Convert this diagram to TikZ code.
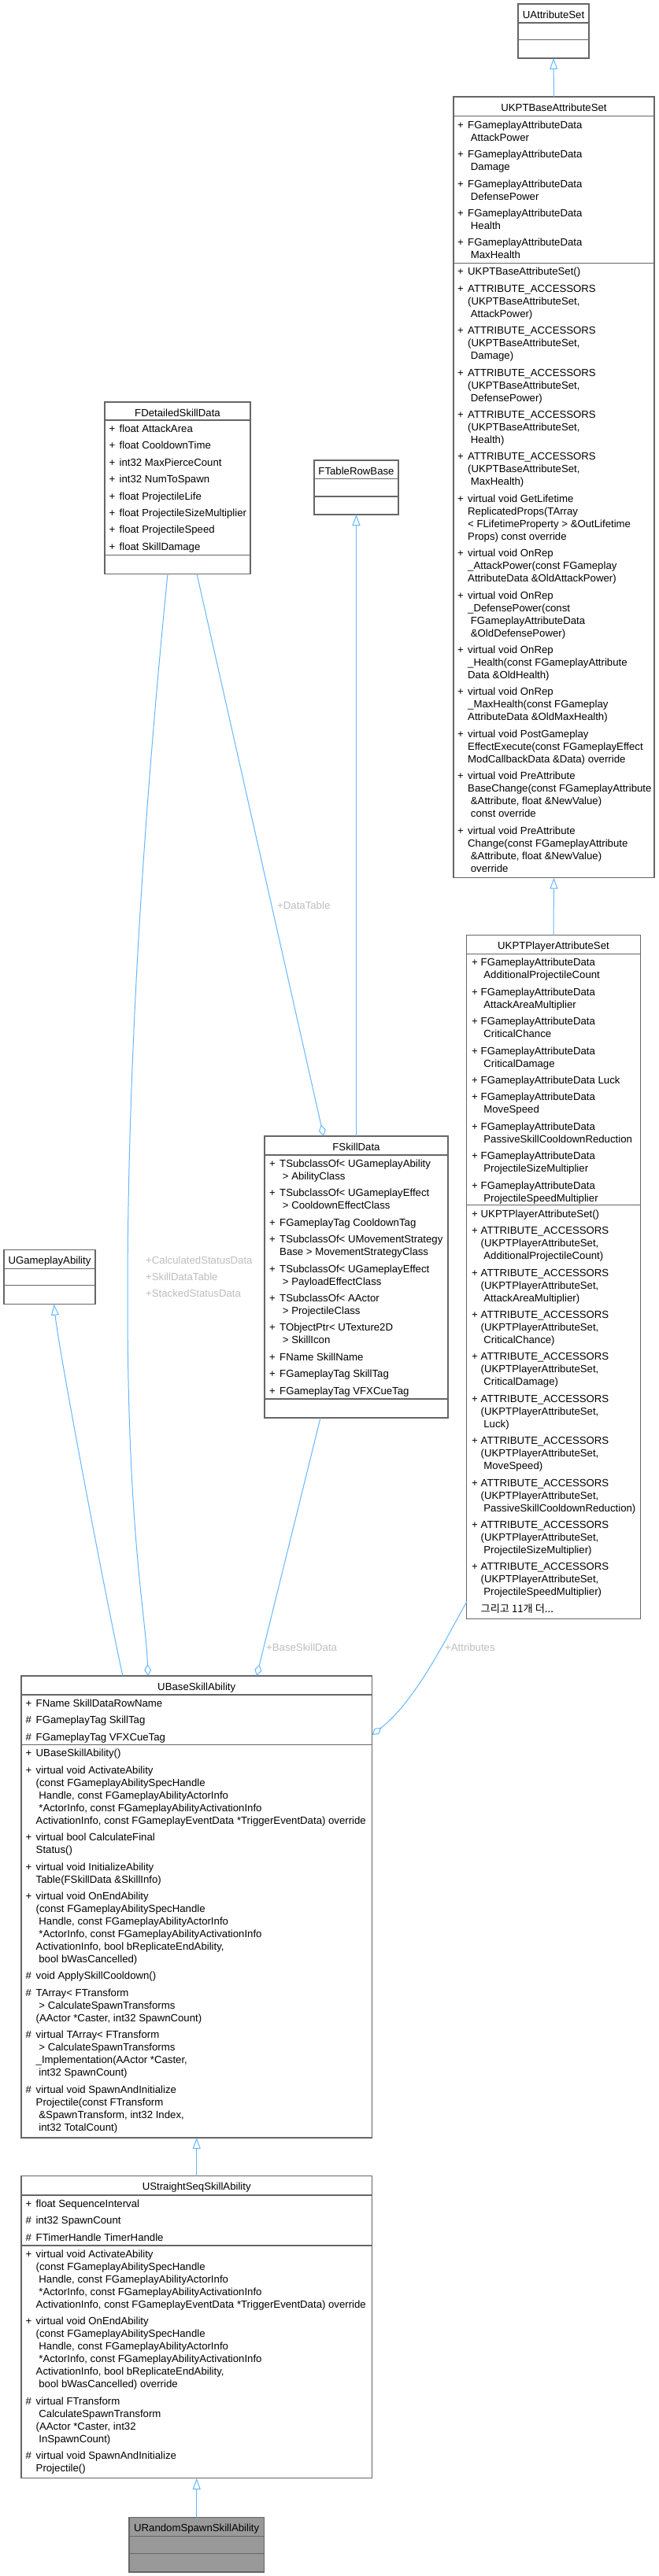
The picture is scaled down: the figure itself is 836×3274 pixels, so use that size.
\documentclass[tikz,border=0pt]{standalone}
\usepackage{fontspec}
\setmainfont{Liberation Sans}
\newfontfamily\krfont{Noto Sans CJK KR}
\usetikzlibrary{arrows.meta,calc}
\definecolor{edgeblue}{HTML}{63B8FF}
\definecolor{boxgray}{HTML}{666666}
\definecolor{lblgray}{HTML}{BEBEBE}
\definecolor{focusfill}{HTML}{999999}
\newlength\pubw
\setlength\pubw{13pt}
\newcommand\Pub{\makebox[\pubw][l]{+}}
\newcommand\Pro{\makebox[\pubw][l]{\#}}
\newcommand\Ind{\hspace*{\pubw}}
\newcommand\Ins{\hspace*{\dimexpr\pubw+3.7pt\relax}}
\newcommand\Cls[8]{%
 \pgfmathsetmacro\clcx{(#2+#4)/2}%
 \pgfmathsetmacro\clcy{(#3+#7)/2}%
 \pgfmathsetmacro\clw{#4-#2}%
 \pgfmathsetmacro\clh{#7-#3}%
 \node[cls, fill=#8, minimum width=\clw pt, minimum height=\clh pt] (#1) at (\clcx,\clcy) {};%
 \draw[sepl] (#2,#5) -- (#4,#5);%
 \draw[sepl] (#2,#6) -- (#4,#6);%
}
\tikzset{
 cls/.style={draw=boxgray, line width=1.2pt, inner sep=0pt, outer sep=0pt},
 sepl/.style={draw=boxgray, line width=1.2pt},
 ttl/.style={anchor=base, inner sep=0pt, font=\fontsize{13.2}{16}\selectfont},
 mem/.style={anchor=base west, inner sep=0pt, font=\fontsize{13.2}{16}\selectfont},
 lbl/.style={anchor=base west, inner sep=0pt, text=lblgray, font=\fontsize{13.2}{16}\selectfont},
 inh/.style={draw=edgeblue, line width=1pt, -{Triangle[open,length=14pt,width=10pt]}},
 agg/.style={draw=edgeblue, line width=1pt, -{Diamond[open,length=15pt,width=9pt]}},
}
\begin{document}
\begin{tikzpicture}[x=1pt,y=-1pt]
\useasboundingbox (0,0) rectangle (836,3274);
\fill[white] (0,0) rectangle (836,3274);

% ---------- class boxes ----------
\Cls{uattr}{658}{5}{748}{29}{50.7}{74}{white}
\node[ttl] (uattrT) at (703,23) {UAttributeSet};

\Cls{ukptbase}{576}{123}{831}{147.7}{334.3}{1115.7}{white}
\node[ttl] (ukptbaseT) at (703.5,141.5) {UKPTBaseAttributeSet};
\node[mem] (ukptbaseA) at (581,163.2) {\begin{tabular}[t]{@{}l@{}}
\Pub FGameplayAttributeData\\ \Ins AttackPower\\[5.4pt]
\Pub FGameplayAttributeData\\ \Ins Damage\\[5.4pt]
\Pub FGameplayAttributeData\\ \Ins DefensePower\\[5.4pt]
\Pub FGameplayAttributeData\\ \Ins Health\\[5.4pt]
\Pub FGameplayAttributeData\\ \Ins MaxHealth
\end{tabular}};
\node[mem] (ukptbaseM) at (581,349.8) {\begin{tabular}[t]{@{}l@{}}
\Pub UKPTBaseAttributeSet()\\[5.4pt]
\Pub ATTRIBUTE\_ACCESSORS\\ \Ind (UKPTBaseAttributeSet,\\ \Ins AttackPower)\\[5.4pt]
\Pub ATTRIBUTE\_ACCESSORS\\ \Ind (UKPTBaseAttributeSet,\\ \Ins Damage)\\[5.4pt]
\Pub ATTRIBUTE\_ACCESSORS\\ \Ind (UKPTBaseAttributeSet,\\ \Ins DefensePower)\\[5.4pt]
\Pub ATTRIBUTE\_ACCESSORS\\ \Ind (UKPTBaseAttributeSet,\\ \Ins Health)\\[5.4pt]
\Pub ATTRIBUTE\_ACCESSORS\\ \Ind (UKPTBaseAttributeSet,\\ \Ins MaxHealth)\\[5.4pt]
\Pub virtual void GetLifetime\\ \Ind ReplicatedProps(TArray\\ \Ind < FLifetimeProperty > \&OutLifetime\\ \Ind Props) const override\\[5.4pt]
\Pub virtual void OnRep\\ \Ind \_AttackPower(const FGameplay\\ \Ind AttributeData \&OldAttackPower)\\[5.4pt]
\Pub virtual void OnRep\\ \Ind \_DefensePower(const\\ \Ins FGameplayAttributeData\\ \Ins \&OldDefensePower)\\[5.4pt]
\Pub virtual void OnRep\\ \Ind \_Health(const FGameplayAttribute\\ \Ind Data \&OldHealth)\\[5.4pt]
\Pub virtual void OnRep\\ \Ind \_MaxHealth(const FGameplay\\ \Ind AttributeData \&OldMaxHealth)\\[5.4pt]
\Pub virtual void PostGameplay\\ \Ind EffectExecute(const FGameplayEffect\\ \Ind ModCallbackData \&Data) override\\[5.4pt]
\Pub virtual void PreAttribute\\ \Ind BaseChange(const FGameplayAttribute\\ \Ins \&Attribute, float \&NewValue)\\ \Ins const override\\[5.4pt]
\Pub virtual void PreAttribute\\ \Ind Change(const FGameplayAttribute\\ \Ins \&Attribute, float \&NewValue)\\ \Ins override
\end{tabular}};

\Cls{fdet}{133}{511}{318}{534}{705.3}{729.3}{white}
\node[ttl] (fdetT) at (225.5,529) {FDetailedSkillData};
\node[mem] (fdetA) at (138.5,549.5) {\begin{tabular}[t]{@{}l@{}}
\Pub float AttackArea\\[5.4pt]
\Pub float CooldownTime\\[5.4pt]
\Pub int32 MaxPierceCount\\[5.4pt]
\Pub int32 NumToSpawn\\[5.4pt]
\Pub float ProjectileLife\\[5.4pt]
\Pub float ProjectileSizeMultiplier\\[5.4pt]
\Pub float ProjectileSpeed\\[5.4pt]
\Pub float SkillDamage
\end{tabular}};

\Cls{ftrb}{399}{585}{506}{608.5}{631}{654}{white}
\node[ttl] (ftrbT) at (452.5,603) {FTableRowBase};

\Cls{fsd}{336}{1444}{569}{1468}{1778}{1802}{white}
\node[ttl] (fsdT) at (452.5,1462) {FSkillData};
\node[mem] (fsdA) at (342,1483.5) {\begin{tabular}[t]{@{}l@{}}
\Pub TSubclassOf< UGameplayAbility\\ \Ins > AbilityClass\\[5.4pt]
\Pub TSubclassOf< UGameplayEffect\\ \Ins > CooldownEffectClass\\[5.4pt]
\Pub FGameplayTag CooldownTag\\[5.4pt]
\Pub TSubclassOf< UMovementStrategy\\ \Ind Base > MovementStrategyClass\\[5.4pt]
\Pub TSubclassOf< UGameplayEffect\\ \Ins > PayloadEffectClass\\[5.4pt]
\Pub TSubclassOf< AActor\\ \Ins > ProjectileClass\\[5.4pt]
\Pub TObjectPtr< UTexture2D\\ \Ins > SkillIcon\\[5.4pt]
\Pub FName SkillName\\[5.4pt]
\Pub FGameplayTag SkillTag\\[5.4pt]
\Pub FGameplayTag VFXCueTag
\end{tabular}};

\Cls{uga}{5}{1588.3}{121}{1612.3}{1633.7}{1657.7}{white}
\node[ttl] (ugaT) at (63,1606.3) {UGameplayAbility};

\Cls{ukptp}{592.7}{1188.3}{813.3}{1212.3}{1531.7}{2057.7}{white}
\node[ttl] (ukptpT) at (703,1206.3) {UKPTPlayerAttributeSet};
\node[mem] (ukptpA) at (599,1227.8) {\setlength\pubw{11.5pt}\begin{tabular}[t]{@{}l@{}}
\Pub FGameplayAttributeData\\ \Ins AdditionalProjectileCount\\[5.4pt]
\Pub FGameplayAttributeData\\ \Ins AttackAreaMultiplier\\[5.4pt]
\Pub FGameplayAttributeData\\ \Ins CriticalChance\\[5.4pt]
\Pub FGameplayAttributeData\\ \Ins CriticalDamage\\[5.4pt]
\Pub FGameplayAttributeData Luck\\[5.4pt]
\Pub FGameplayAttributeData\\ \Ins MoveSpeed\\[5.4pt]
\Pub FGameplayAttributeData\\ \Ins PassiveSkillCooldownReduction\\[5.4pt]
\Pub FGameplayAttributeData\\ \Ins ProjectileSizeMultiplier\\[5.4pt]
\Pub FGameplayAttributeData\\ \Ins ProjectileSpeedMultiplier
\end{tabular}};
\node[mem] (ukptpM) at (599,1547.2) {\setlength\pubw{11.5pt}\begin{tabular}[t]{@{}l@{}}
\Pub UKPTPlayerAttributeSet()\\[5.4pt]
\Pub ATTRIBUTE\_ACCESSORS\\ \Ind (UKPTPlayerAttributeSet,\\ \Ins AdditionalProjectileCount)\\[5.4pt]
\Pub ATTRIBUTE\_ACCESSORS\\ \Ind (UKPTPlayerAttributeSet,\\ \Ins AttackAreaMultiplier)\\[5.4pt]
\Pub ATTRIBUTE\_ACCESSORS\\ \Ind (UKPTPlayerAttributeSet,\\ \Ins CriticalChance)\\[5.4pt]
\Pub ATTRIBUTE\_ACCESSORS\\ \Ind (UKPTPlayerAttributeSet,\\ \Ins CriticalDamage)\\[5.4pt]
\Pub ATTRIBUTE\_ACCESSORS\\ \Ind (UKPTPlayerAttributeSet,\\ \Ins Luck)\\[5.4pt]
\Pub ATTRIBUTE\_ACCESSORS\\ \Ind (UKPTPlayerAttributeSet,\\ \Ins MoveSpeed)\\[5.4pt]
\Pub ATTRIBUTE\_ACCESSORS\\ \Ind (UKPTPlayerAttributeSet,\\ \Ins PassiveSkillCooldownReduction)\\[5.4pt]
\Pub ATTRIBUTE\_ACCESSORS\\ \Ind (UKPTPlayerAttributeSet,\\ \Ins ProjectileSizeMultiplier)\\[5.4pt]
\Pub ATTRIBUTE\_ACCESSORS\\ \Ind (UKPTPlayerAttributeSet,\\ \Ins ProjectileSpeedMultiplier)\\[5.4pt]
\Ind {\krfont 그리고 11개 더...}
\end{tabular}};

\Cls{ubase}{27}{2130}{472.5}{2154}{2217.4}{2717}{white}
\node[ttl] (ubaseT) at (249.75,2148) {UBaseSkillAbility};
\node[mem] (ubaseA) at (32.5,2169.5) {\begin{tabular}[t]{@{}l@{}}
\Pub FName SkillDataRowName\\[5.4pt]
\Pro FGameplayTag SkillTag\\[5.4pt]
\Pro FGameplayTag VFXCueTag
\end{tabular}};
\node[mem] (ubaseM) at (32.5,2232.9) {\begin{tabular}[t]{@{}l@{}}
\Pub UBaseSkillAbility()\\[5.4pt]
\Pub virtual void ActivateAbility\\
\Ind (const FGameplayAbilitySpecHandle\\
\Ins Handle, const FGameplayAbilityActorInfo\\
\Ins *ActorInfo, const FGameplayAbilityActivationInfo\\
\Ind ActivationInfo, const FGameplayEventData *TriggerEventData) override\\[5.4pt]
\Pub virtual bool CalculateFinal\\
\Ind Status()\\[5.4pt]
\Pub virtual void InitializeAbility\\
\Ind Table(FSkillData \&SkillInfo)\\[5.4pt]
\Pub virtual void OnEndAbility\\
\Ind (const FGameplayAbilitySpecHandle\\
\Ins Handle, const FGameplayAbilityActorInfo\\
\Ins *ActorInfo, const FGameplayAbilityActivationInfo\\
\Ind ActivationInfo, bool bReplicateEndAbility,\\
\Ins bool bWasCancelled)\\[5.4pt]
\Pro void ApplySkillCooldown()\\[5.4pt]
\Pro TArray< FTransform\\
\Ins > CalculateSpawnTransforms\\
\Ind (AActor *Caster, int32 SpawnCount)\\[5.4pt]
\Pro virtual TArray< FTransform\\
\Ins > CalculateSpawnTransforms\\
\Ind \_Implementation(AActor *Caster,\\
\Ins int32 SpawnCount)\\[5.4pt]
\Pro virtual void SpawnAndInitialize\\
\Ind Projectile(const FTransform\\
\Ins \&SpawnTransform, int32 Index,\\
\Ins int32 TotalCount)
\end{tabular}};

\Cls{ustr}{27}{2765.7}{472.5}{2790}{2853.9}{3149.8}{white}
\node[ttl] (ustrT) at (249.75,2783.7) {UStraightSeqSkillAbility};
\node[mem] (ustrA) at (32.5,2805.5) {\begin{tabular}[t]{@{}l@{}}
\Pub float SequenceInterval\\[5.4pt]
\Pro int32 SpawnCount\\[5.4pt]
\Pro FTimerHandle TimerHandle
\end{tabular}};
\node[mem] (ustrM) at (32.5,2869.4) {\begin{tabular}[t]{@{}l@{}}
\Pub virtual void ActivateAbility\\
\Ind (const FGameplayAbilitySpecHandle\\
\Ins Handle, const FGameplayAbilityActorInfo\\
\Ins *ActorInfo, const FGameplayAbilityActivationInfo\\
\Ind ActivationInfo, const FGameplayEventData *TriggerEventData) override\\[5.4pt]
\Pub virtual void OnEndAbility\\
\Ind (const FGameplayAbilitySpecHandle\\
\Ins Handle, const FGameplayAbilityActorInfo\\
\Ins *ActorInfo, const FGameplayAbilityActivationInfo\\
\Ind ActivationInfo, bool bReplicateEndAbility,\\
\Ins bool bWasCancelled) override\\[5.4pt]
\Pro virtual FTransform\\
\Ins CalculateSpawnTransform\\
\Ind (AActor *Caster, int32\\
\Ins InSpawnCount)\\[5.4pt]
\Pro virtual void SpawnAndInitialize\\
\Ind Projectile()
\end{tabular}};

\Cls{urnd}{164}{3199.5}{335.4}{3223.4}{3245.3}{3268.9}{focusfill}
\node[ttl] (urndT) at (249.7,3217.5) {URandomSpawnSkillAbility};

% ---------- connectors ----------
\draw[inh] (ukptbase.north) -- (uattr.south);
\draw[inh] (ukptp.north) -- (ukptbase.south);
\draw[inh] (fsd.north) -- (ftrb.south);
\draw[inh] (ustr.north) -- (ubase.south);
\draw[inh] (urnd.north) -- (ustr.south);
\draw[inh] ($(ubase.north west)+(129,0)$) .. controls (140,2060) and (76,1725) .. ($(uga.south west)+(63.5,0)$);

\draw[agg] ($(fdet.south west)+(117,0)$) -- ($(fsd.north west)+(75,0)$);
\draw[agg] ($(fdet.south west)+(80,0)$) .. controls (190,960) and (162,1300) .. (162,1650)
   .. controls (162,1950) and (185,2050) .. ($(ubase.north west)+(161,0)$);
\draw[agg] ($(fsd.south west)+(71,0)$) -- ($(ubase.north west)+(299,0)$);
\draw[agg] ($(ukptp.south west)+(0,-21.7)$) .. controls (570,2075) and (530,2160) .. ($(ubase.north east)+(0,75)$);

% ---------- edge labels ----------
\node[lbl] (lblDataTable) at (352,1155.5) {+DataTable};
\node[lbl] (lblStatus) at (185,1606) {\begin{tabular}[t]{@{}l@{}}+CalculatedStatusData\\[5.4pt] +SkillDataTable\\[5.4pt] +StackedStatusData\end{tabular}};
\node[lbl] (lblBase) at (338,2098.5) {+BaseSkillData};
\node[lbl] (lblAttr) at (565,2098.5) {+Attributes};
\end{tikzpicture}
\end{document}
